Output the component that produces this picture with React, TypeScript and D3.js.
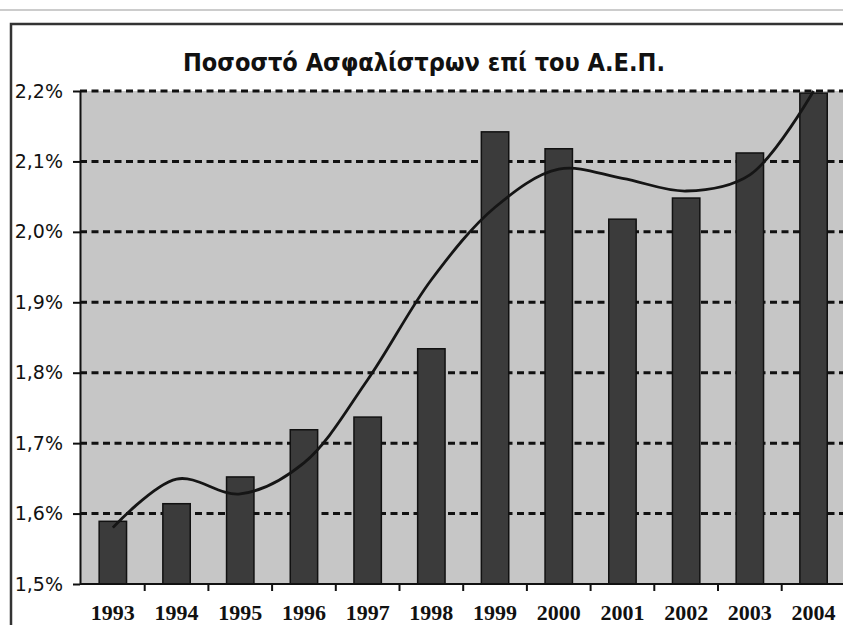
import React, {useEffect, useRef} from "react";
import * as d3 from "d3";

// values (percent of GDP)
const years = ["1993", "1994", "1995", "1996", "1997", "1998", "1999", "2000", "2001", "2002", "2003", "2004"];
const ratio = [1.589, 1.614, 1.652, 1.719, 1.737, 1.834, 2.142, 2.118, 2.018, 2.048, 2.112, 2.197];
const trend = [1.58, 1.649, 1.628, 1.672, 1.79, 1.932, 2.035, 2.089, 2.076, 2.058, 2.081, 2.2];
const yTicks = [1.5, 1.6, 1.7, 1.8, 1.9, 2.0, 2.1, 2.2];
const title = "Ποσοστό Ασφαλίστρων επί του Α.Ε.Π.";

export default function App() {
  const ref = useRef<SVGSVGElement>(null);
  const width = 843;
  const height = 625;
  const left = 80;
  const top = 91;
  const bottom = 584;
  const step = 63.7;

  useEffect(() => {
    const svg = d3.select(ref.current);
    svg.selectAll("*").remove();

    // frame of the scanned page
    svg.append("line").attr("x1", 0).attr("x2", width).attr("y1", 10).attr("y2", 10)
      .attr("stroke", "#bbb").attr("stroke-width", 1.5);
    svg.append("path").attr("d", `M11,${height} V24 H${width}`)
      .attr("fill", "none").attr("stroke", "#333").attr("stroke-width", 2.5);

    const x = d3.scaleBand()
      .domain(years)
      .range([left + 1, left + 1 + step * years.length])
      .paddingInner(0.57)
      .paddingOuter(0.285);
    const y = d3.scaleLinear().domain([1.5, 2.2]).range([bottom, top]);

    // plot background
    svg.append("rect")
      .attr("x", left).attr("y", top)
      .attr("width", width - left).attr("height", bottom - top)
      .attr("fill", "#c6c6c6");

    // dashed grid
    svg.append("g").selectAll("line")
      .data(yTicks.slice(1))
      .join("line")
      .attr("x1", left).attr("x2", width)
      .attr("y1", d => y(d)).attr("y2", d => y(d))
      .attr("stroke", "#111")
      .attr("stroke-width", 3)
      .attr("stroke-dasharray", "7,4.5");

    // bars
    svg.append("g").selectAll("rect")
      .data(ratio)
      .join("rect")
      .attr("x", (d, i) => x(years[i])!)
      .attr("y", d => y(d))
      .attr("width", x.bandwidth())
      .attr("height", d => bottom - y(d))
      .attr("fill", "#3b3b3b")
      .attr("stroke", "#111")
      .attr("stroke-width", 1.5);

    // trend line
    const line = d3.line<number>()
      .x((d, i) => x(years[i])! + x.bandwidth() / 2)
      .y(d => y(d))
      .curve(d3.curveCatmullRom.alpha(0.5));
    svg.append("path")
      .datum(trend)
      .attr("d", line)
      .attr("fill", "none")
      .attr("stroke", "#151515")
      .attr("stroke-width", 2.8);

    // y axis
    const yAxis = svg.append("g").attr("transform", `translate(${left},0)`)
      .call(d3.axisLeft(y).tickValues(yTicks).tickSize(7).tickSizeOuter(0)
        .tickFormat(d => d3.format(".1f")(d as number).replace(".", ",") + "%"));
    yAxis.select(".domain").attr("stroke", "#111").attr("stroke-width", 2);
    yAxis.selectAll(".tick line").attr("stroke", "#111").attr("stroke-width", 2);
    yAxis.selectAll(".tick text")
      .attr("x", -17)
      .attr("fill", "#111")
      .style("font-family", "'DejaVu Sans', sans-serif")
      .style("font-size", "19px");

    // x axis: ticks between categories
    const xg = svg.append("g");
    xg.append("line").attr("x1", left).attr("x2", width).attr("y1", bottom).attr("y2", bottom)
      .attr("stroke", "#111").attr("stroke-width", 2);
    xg.selectAll("line.tk")
      .data(years.slice(1))
      .join("line")
      .attr("class", "tk")
      .attr("x1", d => x(d)! - x.step() * x.paddingInner() / 2)
      .attr("x2", d => x(d)! - x.step() * x.paddingInner() / 2)
      .attr("y1", bottom).attr("y2", bottom + 7)
      .attr("stroke", "#111").attr("stroke-width", 2);
    xg.selectAll("text")
      .data(years)
      .join("text")
      .attr("x", d => x(d)! + x.bandwidth() / 2)
      .attr("y", 620)
      .attr("text-anchor", "middle")
      .attr("fill", "#111")
      .style("font-family", "'Liberation Serif', serif")
      .style("font-weight", "bold")
      .style("font-size", "22px")
      .text(d => d);

    // title
    svg.append("text")
      .attr("x", 424).attr("y", 71)
      .attr("text-anchor", "middle")
      .attr("textLength", 482)
      .attr("lengthAdjust", "spacingAndGlyphs")
      .attr("fill", "#111")
      .style("font-family", "'DejaVu Sans Condensed', 'DejaVu Sans', sans-serif")
      .style("font-weight", "bold")
      .style("font-size", "24px")
      .text(title);
  }, []);

  return (
    <svg ref={ref} width={width} height={height}
      style={{position: "absolute", left: 0, top: 0, background: "#fff"}}/>
  );
}
